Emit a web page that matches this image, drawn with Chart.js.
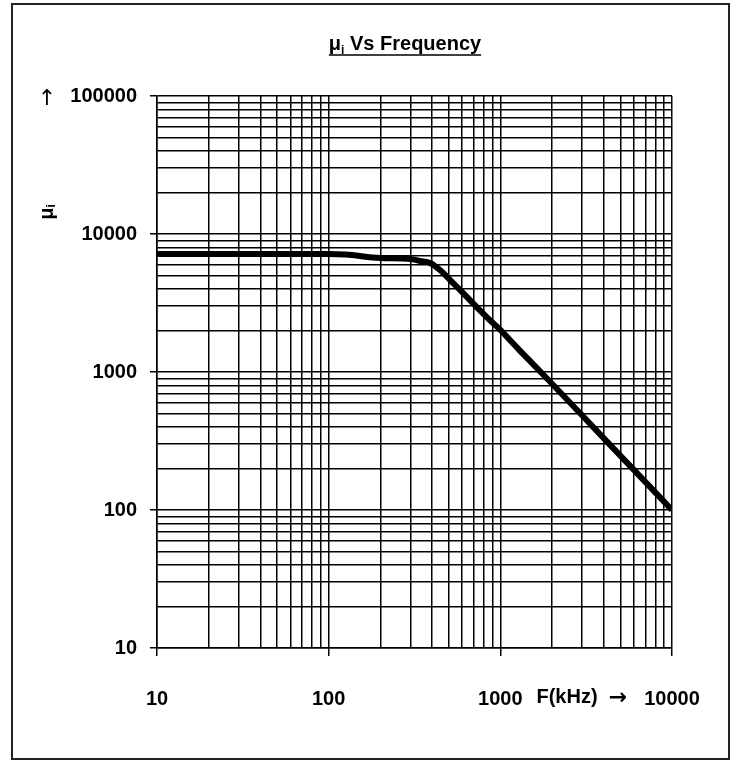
<!DOCTYPE html>
<html>
<head>
<meta charset="utf-8">
<script src="https://cdn.jsdelivr.net/npm/chart.js@4/dist/chart.umd.min.js"></script>
<style>
  html, body { margin: 0; padding: 0; background: #fff; }
  #wrap { width: 736px; height: 761px; position: relative; }
  canvas { display: block; }
</style>
</head>
<body>
<div id="wrap"><canvas id="chart" width="736" height="761"></canvas></div>
<script>
// Initial permeability vs frequency (kHz)
const frequencyKHz = [10, 20, 50, 100, 125, 200, 300, 340, 390, 445, 510, 580, 665, 760, 870, 1000, 1140, 1300, 1950, 3800, 7450, 10000];
const permeability = [7150, 7150, 7150, 7150, 7100, 6700, 6600, 6370, 6160, 5480, 4640, 3950, 3320, 2800, 2370, 2020, 1700, 1430, 850, 355, 147, 100];

// Log grid positions (1..9 per decade) and the decade labels
const xGridValues = [10,20,30,40,50,60,70,80,90,100,200,300,400,500,600,700,800,900,1000,2000,3000,4000,5000,6000,7000,8000,9000,10000];
const yGridValues = [10,20,30,40,50,60,70,80,90,100,200,300,400,500,600,700,800,900,1000,2000,3000,4000,5000,6000,7000,8000,9000,10000,20000,30000,40000,50000,60000,70000,80000,90000,100000];
const xTickLabels = ['10', '100', '1000', '10000'];
const yTickLabels = ['10', '100', '1000', '10000', '100000'];

const FONT = '"Liberation Sans", Arial, sans-serif';
const isDecade = v => xTickLabels.includes(String(v)) || yTickLabels.includes(String(v));

const decorations = {
  id: 'decorations',
  beforeDraw(chart) {
    const ctx = chart.ctx;
    ctx.save();
    ctx.fillStyle = '#fff';
    ctx.fillRect(0, 0, chart.width, chart.height);
    ctx.restore();
  },
  afterDraw(chart) {
    const ctx = chart.ctx;
    ctx.save();
    // outer frame
    ctx.strokeStyle = '#222';
    ctx.lineWidth = 2;
    ctx.strokeRect(12, 4, 717, 755);

    ctx.fillStyle = '#000';
    ctx.textBaseline = 'alphabetic';
    ctx.textAlign = 'left';

    // title: μ with subscript i, then " Vs Frequency", underlined
    const big = 'bold 20px ' + FONT;
    const small = 'bold 12px ' + FONT;
    ctx.font = big;
    const wMu = ctx.measureText('μ').width;
    const wRest = ctx.measureText(' Vs Frequency').width;
    ctx.font = small;
    const wSub = ctx.measureText('i').width;
    const total = wMu + wSub + wRest;
    const cx = 405, base = 50;
    const x0 = cx - total / 2;
    ctx.font = big;
    ctx.fillText('μ', x0, base);
    ctx.font = small;
    ctx.fillText('i', x0 + wMu, base + 4);
    ctx.font = big;
    ctx.fillText(' Vs Frequency', x0 + wMu + wSub, base);
    ctx.lineWidth = 1.5;
    ctx.strokeStyle = '#000';
    ctx.beginPath();
    ctx.moveTo(x0, base + 5);
    ctx.lineTo(x0 + total, base + 5);
    ctx.stroke();

    // upward arrow beside the top y label
    ctx.textAlign = 'center';
    ctx.textBaseline = 'middle';
    ctx.font = '22px "DejaVu Sans", sans-serif';
    ctx.fillText('↑', 47, 99);

    // rotated y-axis title μi
    ctx.save();
    ctx.translate(47, 212);
    ctx.rotate(-Math.PI / 2);
    ctx.textAlign = 'left';
    ctx.textBaseline = 'middle';
    ctx.font = big;
    const wm = ctx.measureText('μ').width;
    ctx.font = small;
    const wi = ctx.measureText('i').width;
    const sx = -(wm + wi) / 2;
    ctx.font = big;
    ctx.fillText('μ', sx, 0);
    ctx.font = small;
    ctx.fillText('i', sx + wm, 5);
    ctx.restore();

    // x-axis name and arrow between the last two decade labels
    ctx.font = big;
    ctx.textAlign = 'center';
    ctx.textBaseline = 'middle';
    ctx.fillText('F(kHz)', 567, 697);
    ctx.font = 'bold 22px "DejaVu Sans", sans-serif';
    ctx.fillText('→', 618, 698);
    ctx.restore();
  }
};

Chart.defaults.font.family = FONT;

new Chart(document.getElementById('chart'), {
  type: 'line',
  data: {
    datasets: [{
      data: frequencyKHz.map((f, i) => ({ x: f, y: permeability[i] })),
      borderColor: '#000',
      borderWidth: 6,
      pointRadius: 0,
      fill: false,
      cubicInterpolationMode: 'monotone'
    }]
  },
  options: {
    responsive: false,
    animation: false,
    devicePixelRatio: 1,
    layout: { padding: { top: 96, right: 64, left: 0, bottom: 0 } },
    plugins: { legend: { display: false }, tooltip: { enabled: false }, title: { display: false } },
    scales: {
      x: {
        type: 'logarithmic',
        min: 10,
        max: 10000,
        afterFit(s) { s.height = 113; },
        afterBuildTicks(s) { s.ticks = xGridValues.map(v => ({ value: v })); },
        ticks: {
          autoSkip: false,
          maxRotation: 0,
          minRotation: 0,
          padding: 31,
          color: '#000',
          font: { size: 20, weight: 'bold' },
          callback: v => xTickLabels.includes(String(v)) ? String(v) : ''
        },
        grid: {
          color: '#000',
          lineWidth: 1.5,
          tickLength: 8,
          tickColor: c => (c.tick && isDecade(c.tick.value)) ? '#000' : 'rgba(0,0,0,0)'
        },
        border: { color: '#000', width: 1.5 }
      },
      y: {
        type: 'logarithmic',
        min: 10,
        max: 100000,
        afterFit(s) { s.width = 157; },
        afterBuildTicks(s) { s.ticks = yGridValues.map(v => ({ value: v })); },
        ticks: {
          autoSkip: false,
          padding: 13,
          color: '#000',
          font: { size: 20, weight: 'bold' },
          callback: v => yTickLabels.includes(String(v)) ? String(v) : ''
        },
        grid: {
          color: '#000',
          lineWidth: 1.5,
          tickLength: 7,
          tickColor: c => (c.tick && isDecade(c.tick.value)) ? '#000' : 'rgba(0,0,0,0)'
        },
        border: { color: '#000', width: 1.5 }
      }
    }
  },
  plugins: [decorations]
});
</script>
</body>
</html>
